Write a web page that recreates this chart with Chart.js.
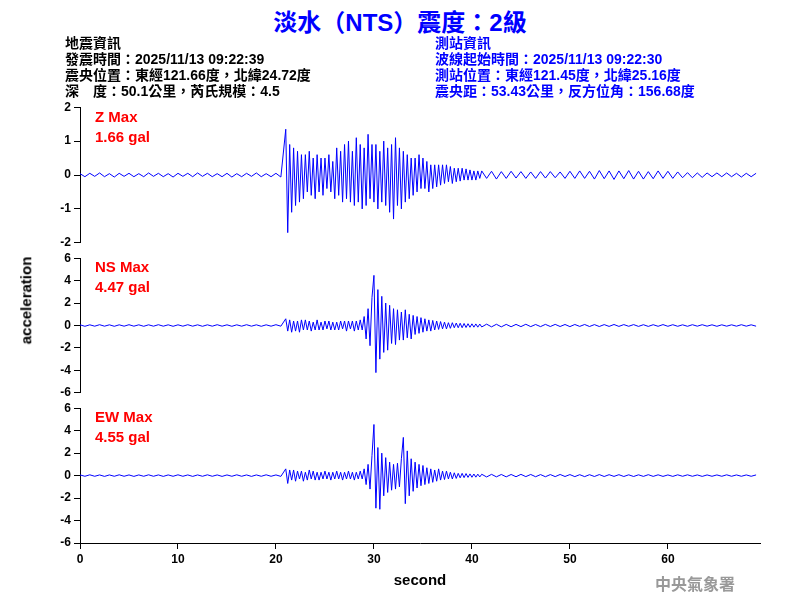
<!DOCTYPE html>
<html>
<head>
<meta charset="utf-8">
<script src="https://cdn.jsdelivr.net/npm/chart.js@4"></script>
<style>
  body { margin: 0; width: 800px; height: 600px; background: #fff; position: relative; overflow: hidden; }
  .box { position: absolute; left: 0; width: 800px; }
  .t { position: absolute; white-space: nowrap; font-family: "Liberation Sans", "Noto Sans CJK TC", sans-serif; font-weight: bold; z-index: 2; }
  .hd { font-size: 14px; line-height: 16px; }
  .red { color: #f00; font-size: 15px; }
</style>
</head>
<body>
<div class="t" style="left:0;width:800px;text-align:center;top:3px;font-size:24px;color:#0000ff;">淡水（NTS）震度：2級</div>
<div class="t hd" style="left:65px;top:35px;color:#000;">地震資訊<br>發震時間：2025/11/13 09:22:39<br>震央位置：東經121.66度，北緯24.72度<br>深　度：50.1公里，芮氏規模：4.5</div>
<div class="t hd" style="left:435px;top:35px;color:#0000ff;">測站資訊<br>波線起始時間：2025/11/13 09:22:30<br>測站位置：東經121.45度，北緯25.16度<br>震央距：53.43公里，反方位角：156.68度</div>
<div class="t red" style="left:95px;top:108px;">Z Max<br><span style="line-height:24px">1.66 gal</span></div>
<div class="t red" style="left:95px;top:258px;">NS Max<br><span style="line-height:24px">4.47 gal</span></div>
<div class="t red" style="left:95px;top:408px;">EW Max<br><span style="line-height:24px">4.55 gal</span></div>
<div class="t" style="left:-18px;top:292px;font-size:15px;transform:rotate(-90deg);">acceleration</div>
<div class="t" style="left:655px;top:571px;font-size:16px;color:#999;font-family:'Noto Sans CJK TC',serif;">中央氣象署</div>
<div class="box" style="top:97px;height:156px;"><canvas id="cz"></canvas></div>
<div class="box" style="top:248px;height:155px;"><canvas id="cns"></canvas></div>
<div class="box" style="top:398px;height:196px;"><canvas id="cew"></canvas></div>
<script>
// sampling: coarse 0-21s, fine 21-41s, coarse 41s-end
const preStart = 0, preStep = 0.5;
const fineStart = 21, fineStep = 0.2;
const postStart = 41, postStep = 0.5;

const zPre = [0.04,-0.05,0.05,-0.04,0.06,-0.05,0.04,-0.06,0.05,-0.04,0.05,-0.05,0.04,-0.05,0.06,-0.04,0.05,-0.05,0.04,-0.06,0.05,-0.04,0.05,-0.05,0.06,-0.04,0.05,-0.05,0.04,-0.05,0.05,-0.06,0.04,-0.05,0.05,-0.04,0.06,-0.05,0.04,-0.05,0.05,-0.06];
const zFine = [1.35,-1.7,0.9,-1.1,0.8, -0.9,0.7,-0.8,0.6,-0.7, 0.6,-0.5,0.7,-0.6,0.5, -0.7,0.6,-0.5,0.5,-0.6, 0.5,-0.4,0.6,-0.5,0.4,
  -0.7,0.8,-0.6,0.7,-0.8, 0.9,-0.7,1.0,-0.8,0.7, -0.9,1.1,-0.8,0.9,-1.0, 0.8,-0.9,1.2,-0.7,0.9, -0.8,0.9,-1.0,0.7,-0.8,
  1.0,-0.9,0.8,-1.1,0.9, -1.3,1.1,-0.9,0.8,-1.0, 0.7,-0.8,0.6,-0.7,0.5, -0.6,0.5,-0.5,0.6,-0.4, 0.5,-0.4,0.4,-0.5,0.3,
  -0.4,0.3,-0.35,0.3,-0.3, 0.3,-0.25,0.3,-0.2,0.25, -0.25,0.2,-0.2,0.2,-0.18, 0.2,-0.15,0.18,-0.15,0.15, -0.15,0.12,-0.15,0.12,-0.1];
const zPost = [0.12,-0.1,0.11,-0.12,0.1,-0.1,0.11,-0.09,0.1,-0.1,0.09,-0.1,0.1,-0.09,0.1,-0.08,0.09,-0.1,0.11,-0.1,0.12,-0.1,0.11,-0.12,0.13,-0.11,0.12,-0.13,0.12,-0.11,0.13,-0.12,0.11,-0.12,0.1,-0.11,0.12,-0.1,0.11,-0.1,0.09,-0.08,0.07,-0.08,0.06,-0.07,0.06,-0.05,0.06,-0.05,0.06,-0.05,0.05,-0.06,0.05,-0.05,0.05];

const nsPre = [0.06,-0.07,0.06,-0.06,0.07,-0.06,0.06,-0.07,0.06,-0.06,0.07,-0.06,0.06,-0.07,0.06,-0.06,0.07,-0.06,0.06,-0.07,0.06,-0.06,0.07,-0.06,0.06,-0.07,0.06,-0.06,0.07,-0.06,0.06,-0.07,0.06,-0.06,0.07,-0.06,0.06,-0.07,0.06,-0.06,0.07,-0.06];
const nsFine = [0.6,-0.5,0.5,-0.6,0.4, -0.5,0.4,-0.6,0.5,-0.4, 0.5,-0.4,0.4,-0.5,0.3, -0.4,0.5,-0.4,0.3,-0.4, 0.4,-0.3,0.4,-0.4,0.3,
  -0.4,0.3,-0.4,0.4,-0.3, 0.4,-0.5,0.4,-0.3,0.4, -0.5,0.4,-0.4,0.5,-0.4, 0.8,-1.2,1.5,-1.8,2.5, 4.47,-4.2,3.2,-3.0,2.6,
  -2.4,2.0,-2.2,1.8,-1.6, 1.5,-1.7,1.4,-1.3,1.2, -1.3,1.4,-1.1,1.0,-1.2, 0.9,-0.8,0.8,-0.7,0.7, -0.6,0.6,-0.5,0.5,-0.5,
  0.45,-0.4,0.4,-0.35,0.35, -0.3,0.3,-0.3,0.25,-0.25, 0.25,-0.2,0.22,-0.2,0.2, -0.2,0.18,-0.18,0.16,-0.16, 0.15,-0.15,0.14,-0.15,0.13];
const nsPost = [-0.13,0.12,-0.12,0.11,-0.12,0.1,-0.11,0.1,-0.1,0.11,-0.1,0.09,-0.1,0.1,-0.09,0.1,-0.09,0.09,-0.1,0.09,-0.08,0.09,-0.09,0.08,-0.09,0.08,-0.08,0.09,-0.08,0.08,-0.07,0.08,-0.08,0.07,-0.08,0.07,-0.07,0.08,-0.07,0.07,-0.07,0.06,-0.07,0.07,-0.06,0.07,-0.06,0.06,-0.07,0.06,-0.06,0.06,-0.06,0.07,-0.06,0.06,-0.06];

const ewPre = [0.06,-0.06,0.07,-0.06,0.06,-0.07,0.06,-0.06,0.07,-0.06,0.06,-0.07,0.06,-0.06,0.07,-0.06,0.06,-0.07,0.06,-0.06,0.07,-0.06,0.06,-0.07,0.06,-0.06,0.07,-0.06,0.06,-0.07,0.06,-0.06,0.07,-0.06,0.06,-0.07,0.06,-0.06,0.07,-0.06,0.06,-0.07];
const ewFine = [0.6,-0.7,0.5,-0.4,0.5, -0.5,0.4,-0.3,0.4,-0.5, 0.3,-0.4,0.5,-0.3,0.4, -0.4,0.3,-0.4,0.3,-0.3, 0.4,-0.3,0.3,-0.4,0.3,
  -0.3,0.4,-0.3,0.3,-0.4, 0.3,-0.3,0.4,-0.3,0.3, -0.4,0.3,-0.3,0.4,-0.3, 0.6,-0.8,1.0,-1.2,1.8, 4.55,-2.9,2.5,-3.0,2.0,
  -1.8,1.6,-1.5,1.2,-1.3, 1.0,-1.2,1.1,-1.0,1.5, 3.4,-2.5,2.2,-1.8,1.5, -1.4,1.2,-1.1,1.0,-0.9, 0.9,-0.8,0.7,-0.7,0.6,
  -0.6,0.5,-0.5,0.6,-0.4, 0.4,-0.35,0.4,-0.3,0.3, -0.3,0.25,-0.25,0.2,-0.2, 0.2,-0.18,0.18,-0.16,0.15, -0.15,0.14,-0.14,0.13,-0.12];
const ewPost = [0.12,-0.12,0.11,-0.11,0.1,-0.11,0.1,-0.1,0.11,-0.09,0.1,-0.1,0.09,-0.1,0.09,-0.09,0.1,-0.08,0.09,-0.09,0.08,-0.09,0.08,-0.08,0.09,-0.08,0.08,-0.07,0.08,-0.08,0.07,-0.08,0.07,-0.07,0.08,-0.07,0.07,-0.07,0.06,-0.07,0.07,-0.06,0.07,-0.06,0.06,-0.07,0.06,-0.06,0.06,-0.06,0.07,-0.06,0.06,-0.06,0.06,-0.06,0.06];

const xTicks = [0, 10, 20, 30, 40, 50, 60];
const xMax = 69.4;
const zTicks = [-2, -1, 0, 1, 2];
const hTicks = [-6, -4, -2, 0, 2, 4, 6];

function trace(pre, fine, post) {
  const pts = [];
  pre.forEach((v, i) => pts.push({ x: preStart + i * preStep, y: v }));
  fine.forEach((v, i) => pts.push({ x: fineStart + i * fineStep, y: v }));
  post.forEach((v, i) => pts.push({ x: postStart + i * postStep, y: v }));
  return pts;
}

const tickFont = { family: "'Liberation Sans', Arial, sans-serif", size: 12, weight: "bold" };

function makeChart(id, data, ticks, showX) {
  return new Chart(document.getElementById(id), {
    type: "line",
    data: { datasets: [{ data, borderColor: "#0000ff", borderWidth: 1, pointRadius: 0, tension: 0 }] },
    options: {
      responsive: true, maintainAspectRatio: false, animation: false,
      layout: { padding: { top: 10, bottom: showX ? 0 : 10, left: 0, right: 40 } },
      plugins: { legend: { display: false }, tooltip: { enabled: false } },
      scales: {
        x: {
          type: "linear", min: 0, max: xMax, display: showX,
          afterBuildTicks: s => { s.ticks = xTicks.map(v => ({ value: v })); },
          afterFit: s => { s.height = showX ? 51 : 0; },
          grid: { drawOnChartArea: false, color: "#000", tickLength: 6 },
          border: { color: "#000", width: 1 },
          ticks: { color: "#000", font: tickFont, maxRotation: 0, autoSkip: false, padding: 3 },
          title: { display: true, text: "second", color: "#000", font: { family: "'Liberation Sans', Arial, sans-serif", size: 15, weight: "bold" }, padding: { top: 0 } }
        },
        y: {
          min: ticks[0], max: ticks[ticks.length - 1],
          afterBuildTicks: s => { s.ticks = ticks.map(v => ({ value: v })); },
          afterFit: s => { s.width = 80; },
          grid: { drawOnChartArea: false, color: "#000", tickLength: 6 },
          border: { color: "#000", width: 1 },
          ticks: { color: "#000", font: tickFont, autoSkip: false, padding: 3 }
        }
      }
    }
  });
}

makeChart("cz", trace(zPre, zFine, zPost), zTicks, false);
makeChart("cns", trace(nsPre, nsFine, nsPost), hTicks, false);
makeChart("cew", trace(ewPre, ewFine, ewPost), hTicks, true);
</script>
</body>
</html>
